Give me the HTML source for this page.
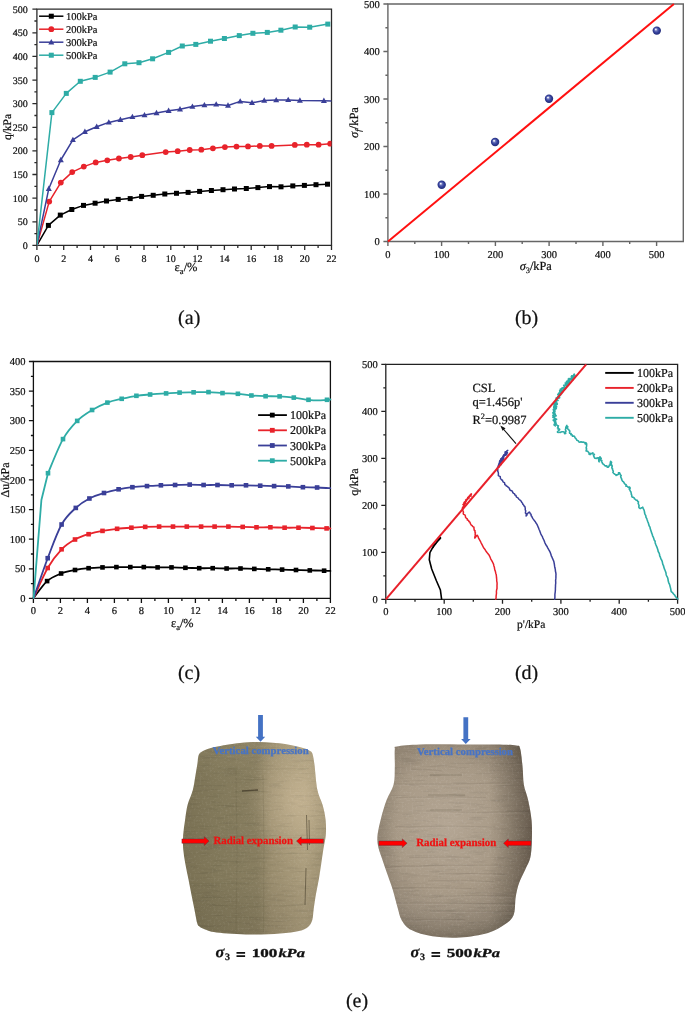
<!DOCTYPE html><html><head><meta charset="utf-8"><style>html,body{margin:0;padding:0;background:#fff;}svg{display:block;will-change:transform;text-rendering:geometricPrecision;} .ct text{stroke:#111;stroke-width:0.22px;}</style></head><body>
<svg width="685" height="1012" viewBox="0 0 685 1012" font-family="Liberation Serif" fill="#111"><g class="ct">
<g><path d="M36.9 9.2H331.5V245.4H36.9Z" fill="none" stroke="#2a2a2a" stroke-width="1.3"/>
<text x="27.8" y="248.8" text-anchor="end" font-size="10">0</text>
<text x="27.8" y="225.2" text-anchor="end" font-size="10">50</text>
<text x="27.8" y="201.6" text-anchor="end" font-size="10">100</text>
<text x="27.8" y="177.9" text-anchor="end" font-size="10">150</text>
<text x="27.8" y="154.3" text-anchor="end" font-size="10">200</text>
<text x="27.8" y="130.7" text-anchor="end" font-size="10">250</text>
<text x="27.8" y="107.1" text-anchor="end" font-size="10">300</text>
<text x="27.8" y="83.5" text-anchor="end" font-size="10">350</text>
<text x="27.8" y="59.8" text-anchor="end" font-size="10">400</text>
<text x="27.8" y="36.2" text-anchor="end" font-size="10">450</text>
<text x="27.8" y="12.6" text-anchor="end" font-size="10">500</text>
<text x="36.9" y="261.6" text-anchor="middle" font-size="10">0</text>
<text x="63.7" y="261.6" text-anchor="middle" font-size="10">2</text>
<text x="90.5" y="261.6" text-anchor="middle" font-size="10">4</text>
<text x="117.2" y="261.6" text-anchor="middle" font-size="10">6</text>
<text x="144" y="261.6" text-anchor="middle" font-size="10">8</text>
<text x="170.8" y="261.6" text-anchor="middle" font-size="10">10</text>
<text x="197.6" y="261.6" text-anchor="middle" font-size="10">12</text>
<text x="224.4" y="261.6" text-anchor="middle" font-size="10">14</text>
<text x="251.2" y="261.6" text-anchor="middle" font-size="10">16</text>
<text x="277.9" y="261.6" text-anchor="middle" font-size="10">18</text>
<text x="304.7" y="261.6" text-anchor="middle" font-size="10">20</text>
<text x="331.5" y="261.6" text-anchor="middle" font-size="10">22</text>
<path d="M32.4 245.4H36.9M34.4 233.6H36.9M32.4 221.8H36.9M34.4 210H36.9M32.4 198.2H36.9M34.4 186.3H36.9M32.4 174.5H36.9M34.4 162.7H36.9M32.4 150.9H36.9M34.4 139.1H36.9M32.4 127.3H36.9M34.4 115.5H36.9M32.4 103.7H36.9M34.4 91.9H36.9M32.4 80.1H36.9M34.4 68.2H36.9M32.4 56.4H36.9M34.4 44.6H36.9M32.4 32.8H36.9M34.4 21H36.9M32.4 9.2H36.9M36.9 245.4V249.9M50.3 245.4V247.9M63.7 245.4V249.9M77.1 245.4V247.9M90.5 245.4V249.9M103.9 245.4V247.9M117.2 245.4V249.9M130.6 245.4V247.9M144 245.4V249.9M157.4 245.4V247.9M170.8 245.4V249.9M184.2 245.4V247.9M197.6 245.4V249.9M211 245.4V247.9M224.4 245.4V249.9M237.8 245.4V247.9M251.2 245.4V249.9M264.5 245.4V247.9M277.9 245.4V249.9M291.3 245.4V247.9M304.7 245.4V249.9M318.1 245.4V247.9M331.5 245.4V249.9" fill="none" stroke="#2a2a2a" stroke-width="1.3"/></g>
<g clip-path="url(#clipA)">
<path d="M36.9 245.4 L48.4 225.4 L60.3 215.1 L71.8 209.5 L83.5 205.4 L95.1 203.2 L106.5 201 L118.2 199.4 L130.2 198.6 L141.6 196.4 L153.2 195.3 L164.8 194 L176.5 193.3 L188.1 192.4 L199.6 191.4 L211.4 190.5 L223 189.7 L234.5 189 L246.3 188.5 L257.9 187.6 L269.5 186.6 L281 186.8 L292.8 185.9 L304.4 185.4 L316 184.7 L327.5 184.2" fill="none" stroke="#000000" stroke-width="1.5" stroke-linejoin="round" stroke-linecap="round" />
<rect x="45.9" y="222.9" width="5" height="5" fill="#000000"/>
<rect x="57.8" y="212.6" width="5" height="5" fill="#000000"/>
<rect x="69.3" y="207" width="5" height="5" fill="#000000"/>
<rect x="81" y="202.9" width="5" height="5" fill="#000000"/>
<rect x="92.6" y="200.7" width="5" height="5" fill="#000000"/>
<rect x="104" y="198.5" width="5" height="5" fill="#000000"/>
<rect x="115.7" y="196.9" width="5" height="5" fill="#000000"/>
<rect x="127.7" y="196.1" width="5" height="5" fill="#000000"/>
<rect x="139.1" y="193.9" width="5" height="5" fill="#000000"/>
<rect x="150.7" y="192.8" width="5" height="5" fill="#000000"/>
<rect x="162.3" y="191.5" width="5" height="5" fill="#000000"/>
<rect x="174" y="190.8" width="5" height="5" fill="#000000"/>
<rect x="185.6" y="189.9" width="5" height="5" fill="#000000"/>
<rect x="197.1" y="188.9" width="5" height="5" fill="#000000"/>
<rect x="208.9" y="188" width="5" height="5" fill="#000000"/>
<rect x="220.5" y="187.2" width="5" height="5" fill="#000000"/>
<rect x="232" y="186.5" width="5" height="5" fill="#000000"/>
<rect x="243.8" y="186" width="5" height="5" fill="#000000"/>
<rect x="255.4" y="185.1" width="5" height="5" fill="#000000"/>
<rect x="267" y="184.1" width="5" height="5" fill="#000000"/>
<rect x="278.5" y="184.3" width="5" height="5" fill="#000000"/>
<rect x="290.3" y="183.4" width="5" height="5" fill="#000000"/>
<rect x="301.9" y="182.9" width="5" height="5" fill="#000000"/>
<rect x="313.5" y="182.2" width="5" height="5" fill="#000000"/>
<rect x="325" y="181.7" width="5" height="5" fill="#000000"/>
<path d="M36.9 245.4 L49.2 201.6 L60.8 182.6 L72.2 172.1 L83.8 166.6 L95.7 162.4 L107.3 160.3 L118.9 158.5 L130.7 157 L142.3 155.2 L165.7 152.1 L177.7 151.2 L189.7 150 L201.3 149.7 L212.9 148.3 L224.9 147.1 L236.5 146.6 L248 146.4 L259.8 145.9 L271.6 145.9 L294.8 144.9 L306.8 144.7 L318.6 144.7 L330.2 143.7" fill="none" stroke="#e8232b" stroke-width="1.5" stroke-linejoin="round" stroke-linecap="round" />
<circle cx="49.2" cy="201.6" r="2.9" fill="#e8232b"/>
<circle cx="60.8" cy="182.6" r="2.9" fill="#e8232b"/>
<circle cx="72.2" cy="172.1" r="2.9" fill="#e8232b"/>
<circle cx="83.8" cy="166.6" r="2.9" fill="#e8232b"/>
<circle cx="95.7" cy="162.4" r="2.9" fill="#e8232b"/>
<circle cx="107.3" cy="160.3" r="2.9" fill="#e8232b"/>
<circle cx="118.9" cy="158.5" r="2.9" fill="#e8232b"/>
<circle cx="130.7" cy="157" r="2.9" fill="#e8232b"/>
<circle cx="142.3" cy="155.2" r="2.9" fill="#e8232b"/>
<circle cx="165.7" cy="152.1" r="2.9" fill="#e8232b"/>
<circle cx="177.7" cy="151.2" r="2.9" fill="#e8232b"/>
<circle cx="189.7" cy="150" r="2.9" fill="#e8232b"/>
<circle cx="201.3" cy="149.7" r="2.9" fill="#e8232b"/>
<circle cx="212.9" cy="148.3" r="2.9" fill="#e8232b"/>
<circle cx="224.9" cy="147.1" r="2.9" fill="#e8232b"/>
<circle cx="236.5" cy="146.6" r="2.9" fill="#e8232b"/>
<circle cx="248" cy="146.4" r="2.9" fill="#e8232b"/>
<circle cx="259.8" cy="145.9" r="2.9" fill="#e8232b"/>
<circle cx="271.6" cy="145.9" r="2.9" fill="#e8232b"/>
<circle cx="294.8" cy="144.9" r="2.9" fill="#e8232b"/>
<circle cx="306.8" cy="144.7" r="2.9" fill="#e8232b"/>
<circle cx="318.6" cy="144.7" r="2.9" fill="#e8232b"/>
<circle cx="330.2" cy="143.7" r="2.9" fill="#e8232b"/>
<path d="M36.9 245.4 L48.8 188.7 L60.8 160 L72.9 139.9 L84.9 131.8 L96.7 126.7 L108.8 122.4 L120.4 119.7 L132.4 116.9 L144.5 115.1 L156.5 113 L168.6 110.8 L180 109.2 L192.4 106.6 L204.4 105.1 L216.2 104.4 L228 105.5 L240.2 101.4 L252 102.8 L264.2 100.5 L276.2 100.1 L288.2 99.9 L299.9 100.5 L323.9 100.8 L331.5 101" fill="none" stroke="#3a3f98" stroke-width="1.5" stroke-linejoin="round" stroke-linecap="round" />
<path d="M48.8 185.5L51.8 190.9L45.8 190.9Z" fill="#3a3f98"/>
<path d="M60.8 156.8L63.8 162.2L57.8 162.2Z" fill="#3a3f98"/>
<path d="M72.9 136.7L75.9 142.1L69.9 142.1Z" fill="#3a3f98"/>
<path d="M84.9 128.6L87.9 134L81.9 134Z" fill="#3a3f98"/>
<path d="M96.7 123.5L99.7 128.9L93.7 128.9Z" fill="#3a3f98"/>
<path d="M108.8 119.2L111.8 124.6L105.8 124.6Z" fill="#3a3f98"/>
<path d="M120.4 116.5L123.4 121.9L117.4 121.9Z" fill="#3a3f98"/>
<path d="M132.4 113.7L135.4 119.1L129.4 119.1Z" fill="#3a3f98"/>
<path d="M144.5 111.9L147.5 117.3L141.5 117.3Z" fill="#3a3f98"/>
<path d="M156.5 109.8L159.5 115.2L153.5 115.2Z" fill="#3a3f98"/>
<path d="M168.6 107.6L171.6 113L165.6 113Z" fill="#3a3f98"/>
<path d="M180 106L183 111.4L177 111.4Z" fill="#3a3f98"/>
<path d="M192.4 103.4L195.4 108.8L189.4 108.8Z" fill="#3a3f98"/>
<path d="M204.4 101.9L207.4 107.3L201.4 107.3Z" fill="#3a3f98"/>
<path d="M216.2 101.2L219.2 106.6L213.2 106.6Z" fill="#3a3f98"/>
<path d="M228 102.3L231 107.7L225 107.7Z" fill="#3a3f98"/>
<path d="M240.2 98.2L243.2 103.6L237.2 103.6Z" fill="#3a3f98"/>
<path d="M252 99.6L255 105L249 105Z" fill="#3a3f98"/>
<path d="M264.2 97.3L267.2 102.7L261.2 102.7Z" fill="#3a3f98"/>
<path d="M276.2 96.9L279.2 102.3L273.2 102.3Z" fill="#3a3f98"/>
<path d="M288.2 96.7L291.2 102.1L285.2 102.1Z" fill="#3a3f98"/>
<path d="M299.9 97.3L302.9 102.7L296.9 102.7Z" fill="#3a3f98"/>
<path d="M323.9 97.6L326.9 103L320.9 103Z" fill="#3a3f98"/>
<path d="M36.9 245.4 L51.9 112.6 L66.3 93.4 L80.3 81.3 L95.2 77.4 L110.1 72.1 L124.8 63.8 L139 62.7 L152.6 58.8 L168.6 52.4 L182.3 46 L195.8 44.4 L210.5 41.2 L224.4 38.5 L239.3 35.6 L252.9 33.3 L267.3 32.4 L280.9 30.2 L295.2 27 L309.7 27.2 L327.8 24.1" fill="none" stroke="#2eaca6" stroke-width="1.5" stroke-linejoin="round" stroke-linecap="round" />
<rect x="49.4" y="110.1" width="5" height="5" fill="#2eaca6"/>
<rect x="63.8" y="90.9" width="5" height="5" fill="#2eaca6"/>
<rect x="77.8" y="78.8" width="5" height="5" fill="#2eaca6"/>
<rect x="92.7" y="74.9" width="5" height="5" fill="#2eaca6"/>
<rect x="107.6" y="69.6" width="5" height="5" fill="#2eaca6"/>
<rect x="122.3" y="61.3" width="5" height="5" fill="#2eaca6"/>
<rect x="136.5" y="60.2" width="5" height="5" fill="#2eaca6"/>
<rect x="150.1" y="56.3" width="5" height="5" fill="#2eaca6"/>
<rect x="166.1" y="49.9" width="5" height="5" fill="#2eaca6"/>
<rect x="179.8" y="43.5" width="5" height="5" fill="#2eaca6"/>
<rect x="193.3" y="41.9" width="5" height="5" fill="#2eaca6"/>
<rect x="208" y="38.7" width="5" height="5" fill="#2eaca6"/>
<rect x="221.9" y="36" width="5" height="5" fill="#2eaca6"/>
<rect x="236.8" y="33.1" width="5" height="5" fill="#2eaca6"/>
<rect x="250.4" y="30.8" width="5" height="5" fill="#2eaca6"/>
<rect x="264.8" y="29.9" width="5" height="5" fill="#2eaca6"/>
<rect x="278.4" y="27.7" width="5" height="5" fill="#2eaca6"/>
<rect x="292.7" y="24.5" width="5" height="5" fill="#2eaca6"/>
<rect x="307.2" y="24.7" width="5" height="5" fill="#2eaca6"/>
<rect x="325.3" y="21.6" width="5" height="5" fill="#2eaca6"/>
</g>
<path d="M39.1 16.2H63.4" stroke="#000000" stroke-width="1.5"/>
<rect x="48.8" y="13.7" width="5" height="5" fill="#000000"/>
<text x="66" y="19.8" font-size="10.5">100kPa</text>
<path d="M39.1 29.2H63.4" stroke="#e8232b" stroke-width="1.5"/>
<circle cx="51.3" cy="29.2" r="2.9" fill="#e8232b"/>
<text x="66" y="32.8" font-size="10.5">200kPa</text>
<path d="M39.1 42.2H63.4" stroke="#3a3f98" stroke-width="1.5"/>
<path d="M51.3 39L54.3 44.4L48.3 44.4Z" fill="#3a3f98"/>
<text x="66" y="45.8" font-size="10.5">300kPa</text>
<path d="M39.1 55.2H63.4" stroke="#2eaca6" stroke-width="1.5"/>
<rect x="48.8" y="52.7" width="5" height="5" fill="#2eaca6"/>
<text x="66" y="58.8" font-size="10.5">500kPa</text>
<text transform="translate(11.2 127) rotate(-90)" text-anchor="middle" font-size="11.5">q/kPa</text>
<text x="174.6" y="270.9" font-size="12.5">ε<tspan font-size="8.5" dy="2.7">a</tspan><tspan dy="-2.7">/%</tspan></text>
<g><path d="M387.9 4H683.3V241.5H387.9Z" fill="none" stroke="#666" stroke-width="1.4"/>
<text x="379.7" y="245.1" text-anchor="end" font-size="10.5">0</text>
<text x="379.7" y="197.6" text-anchor="end" font-size="10.5">100</text>
<text x="379.7" y="150.1" text-anchor="end" font-size="10.5">200</text>
<text x="379.7" y="102.6" text-anchor="end" font-size="10.5">300</text>
<text x="379.7" y="55.1" text-anchor="end" font-size="10.5">400</text>
<text x="379.7" y="7.6" text-anchor="end" font-size="10.5">500</text>
<text x="387.9" y="257.9" text-anchor="middle" font-size="10.5">0</text>
<text x="441.6" y="257.9" text-anchor="middle" font-size="10.5">100</text>
<text x="495.4" y="257.9" text-anchor="middle" font-size="10.5">200</text>
<text x="549.1" y="257.9" text-anchor="middle" font-size="10.5">300</text>
<text x="602.9" y="257.9" text-anchor="middle" font-size="10.5">400</text>
<text x="656.6" y="257.9" text-anchor="middle" font-size="10.5">500</text>
<path d="M383.4 241.5H387.9M385.4 217.8H387.9M383.4 194H387.9M385.4 170.2H387.9M383.4 146.5H387.9M385.4 122.8H387.9M383.4 99H387.9M385.4 75.2H387.9M383.4 51.5H387.9M385.4 27.8H387.9M383.4 4H387.9M387.9 241.5V246M414.8 241.5V244M441.6 241.5V246M468.5 241.5V244M495.4 241.5V246M522.2 241.5V244M549.1 241.5V246M576 241.5V244M602.9 241.5V246M629.7 241.5V244M656.6 241.5V246" fill="none" stroke="#666" stroke-width="1.4"/></g>
<defs><radialGradient id="ball" cx="0.5" cy="0.5" r="0.55" fx="0.36" fy="0.33"><stop offset="0" stop-color="#ffffff"/><stop offset="0.12" stop-color="#e0e2f2"/><stop offset="0.3" stop-color="#6a74bc"/><stop offset="0.6" stop-color="#34409a"/><stop offset="1" stop-color="#1f2874"/></radialGradient>
<clipPath id="clipA"><rect x="36.9" y="9.2" width="294.6" height="236.2"/></clipPath></defs>
<path d="M388 241.5L673.9 4.1" stroke="#ff1010" stroke-width="2"/>
<circle cx="441.7" cy="184.8" r="4.2" fill="url(#ball)"/>
<circle cx="495.1" cy="142" r="4.2" fill="url(#ball)"/>
<circle cx="549" cy="98.7" r="4.2" fill="url(#ball)"/>
<circle cx="656.8" cy="30.6" r="4.2" fill="url(#ball)"/>
<text transform="translate(357.8 122.5) rotate(-90)" text-anchor="middle" font-size="12.5"><tspan font-style="italic">σ</tspan><tspan font-size="8.5" dy="2.8" font-style="italic">f</tspan><tspan dy="-2.8">/kPa</tspan></text>
<text x="519.7" y="269.9" font-size="12.3"><tspan font-style="italic">σ</tspan><tspan font-size="8.3" dy="2.7">3</tspan><tspan dy="-2.7">/kPa</tspan></text>
<g><path d="M33.4 361.5H330.4V598.4H33.4Z" fill="none" stroke="#111" stroke-width="1.3"/>
<text x="25.5" y="602" text-anchor="end" font-size="10.5">0</text>
<text x="25.5" y="572.4" text-anchor="end" font-size="10.5">50</text>
<text x="25.5" y="542.7" text-anchor="end" font-size="10.5">100</text>
<text x="25.5" y="513.1" text-anchor="end" font-size="10.5">150</text>
<text x="25.5" y="483.5" text-anchor="end" font-size="10.5">200</text>
<text x="25.5" y="453.9" text-anchor="end" font-size="10.5">250</text>
<text x="25.5" y="424.3" text-anchor="end" font-size="10.5">300</text>
<text x="25.5" y="394.7" text-anchor="end" font-size="10.5">350</text>
<text x="25.5" y="365.1" text-anchor="end" font-size="10.5">400</text>
<text x="33.4" y="614.2" text-anchor="middle" font-size="10.5">0</text>
<text x="60.4" y="614.2" text-anchor="middle" font-size="10.5">2</text>
<text x="87.4" y="614.2" text-anchor="middle" font-size="10.5">4</text>
<text x="114.4" y="614.2" text-anchor="middle" font-size="10.5">6</text>
<text x="141.4" y="614.2" text-anchor="middle" font-size="10.5">8</text>
<text x="168.4" y="614.2" text-anchor="middle" font-size="10.5">10</text>
<text x="195.4" y="614.2" text-anchor="middle" font-size="10.5">12</text>
<text x="222.4" y="614.2" text-anchor="middle" font-size="10.5">14</text>
<text x="249.4" y="614.2" text-anchor="middle" font-size="10.5">16</text>
<text x="276.4" y="614.2" text-anchor="middle" font-size="10.5">18</text>
<text x="303.4" y="614.2" text-anchor="middle" font-size="10.5">20</text>
<text x="330.4" y="614.2" text-anchor="middle" font-size="10.5">22</text>
<path d="M28.9 598.4H33.4M30.9 583.6H33.4M28.9 568.8H33.4M30.9 554H33.4M28.9 539.2H33.4M30.9 524.4H33.4M28.9 509.6H33.4M30.9 494.8H33.4M28.9 479.9H33.4M30.9 465.1H33.4M28.9 450.3H33.4M30.9 435.5H33.4M28.9 420.7H33.4M30.9 405.9H33.4M28.9 391.1H33.4M30.9 376.3H33.4M28.9 361.5H33.4M33.4 598.4V602.9M46.9 598.4V600.9M60.4 598.4V602.9M73.9 598.4V600.9M87.4 598.4V602.9M100.9 598.4V600.9M114.4 598.4V602.9M127.9 598.4V600.9M141.4 598.4V602.9M154.9 598.4V600.9M168.4 598.4V602.9M181.9 598.4V600.9M195.4 598.4V602.9M208.9 598.4V600.9M222.4 598.4V602.9M235.9 598.4V600.9M249.4 598.4V602.9M262.9 598.4V600.9M276.4 598.4V602.9M289.9 598.4V600.9M303.4 598.4V602.9M316.9 598.4V600.9M330.4 598.4V602.9" fill="none" stroke="#111" stroke-width="1.3"/></g>
<path d="M33.6 598 C35.9 595.2 42.5 585.2 47.1 581.1 C51.7 577 56.5 575.4 61.1 573.5 C65.8 571.6 70.4 570.9 75 570 C79.6 569.1 84 568.6 88.6 568.2 C93.2 567.8 97.9 567.6 102.5 567.4 C107.1 567.2 111.8 567.1 116.4 567.1 C121 567.1 125.7 567.1 130.3 567.1 C134.9 567.1 139.2 567.1 143.8 567.1 C148.4 567.1 153 567.4 157.6 567.4 C162.2 567.4 166.9 567.3 171.5 567.4 C176.1 567.5 180.8 567.7 185.4 567.8 C190 567.9 194.6 568.1 199.2 568.2 C203.8 568.3 208.1 568.2 212.7 568.2 C217.3 568.2 222 568.5 226.6 568.5 C231.2 568.5 235.9 568.4 240.5 568.5 C245.1 568.6 249.7 568.8 254.3 568.9 C258.9 569 263.6 569.2 268.2 569.3 C272.8 569.4 277.5 569.5 282.1 569.6 C286.7 569.7 291.4 569.9 296 570 C300.6 570.1 305.1 570.3 309.8 570.4 C314.5 570.5 320.7 570.6 324.1 570.7 C327.5 570.8 329.3 570.9 330.4 570.9" fill="none" stroke="#000000" stroke-width="1.8" stroke-linejoin="round" stroke-linecap="round"/>
<rect x="44.8" y="578.8" width="4.6" height="4.6" fill="#000000"/>
<rect x="58.8" y="571.2" width="4.6" height="4.6" fill="#000000"/>
<rect x="72.7" y="567.7" width="4.6" height="4.6" fill="#000000"/>
<rect x="86.3" y="565.9" width="4.6" height="4.6" fill="#000000"/>
<rect x="100.2" y="565.1" width="4.6" height="4.6" fill="#000000"/>
<rect x="114.1" y="564.8" width="4.6" height="4.6" fill="#000000"/>
<rect x="128" y="564.8" width="4.6" height="4.6" fill="#000000"/>
<rect x="141.5" y="564.8" width="4.6" height="4.6" fill="#000000"/>
<rect x="155.3" y="565.1" width="4.6" height="4.6" fill="#000000"/>
<rect x="169.2" y="565.1" width="4.6" height="4.6" fill="#000000"/>
<rect x="183.1" y="565.5" width="4.6" height="4.6" fill="#000000"/>
<rect x="196.9" y="565.9" width="4.6" height="4.6" fill="#000000"/>
<rect x="210.4" y="565.9" width="4.6" height="4.6" fill="#000000"/>
<rect x="224.3" y="566.2" width="4.6" height="4.6" fill="#000000"/>
<rect x="238.2" y="566.2" width="4.6" height="4.6" fill="#000000"/>
<rect x="252" y="566.6" width="4.6" height="4.6" fill="#000000"/>
<rect x="265.9" y="567" width="4.6" height="4.6" fill="#000000"/>
<rect x="279.8" y="567.3" width="4.6" height="4.6" fill="#000000"/>
<rect x="293.7" y="567.7" width="4.6" height="4.6" fill="#000000"/>
<rect x="307.5" y="568.1" width="4.6" height="4.6" fill="#000000"/>
<rect x="321.8" y="568.4" width="4.6" height="4.6" fill="#000000"/>
<path d="M33.6 598 C36 593 43 576.1 47.7 568 C52.4 559.9 57.1 554 61.6 549.3 C66.2 544.5 70.5 542 75 539.5 C79.5 537 84 535.6 88.6 534.2 C93.2 532.8 97.8 531.8 102.5 530.9 C107.2 530 112.3 529.3 117.1 528.8 C121.9 528.3 126.7 528 131.4 527.7 C136.1 527.4 140.6 527.1 145.2 526.9 C149.8 526.7 154.5 526.6 159.1 526.6 C163.7 526.6 168.4 526.6 173 526.6 C177.6 526.6 182.1 526.6 186.8 526.6 C191.5 526.6 196.5 526.6 201.1 526.6 C205.7 526.6 210 526.6 214.6 526.6 C219.2 526.6 223.7 526.6 228.4 526.6 C233.1 526.6 238 526.8 242.7 526.9 C247.4 527 251.9 527.2 256.5 527.3 C261.1 527.4 265.7 527.2 270.4 527.3 C275.1 527.4 279.9 527.6 284.6 527.7 C289.3 527.8 293.9 527.7 298.5 527.7 C303.1 527.8 307.7 527.9 312.4 528 C317.1 528.1 323.6 528.3 326.6 528.4 C329.6 528.5 329.8 528.5 330.4 528.5" fill="none" stroke="#e8232b" stroke-width="1.8" stroke-linejoin="round" stroke-linecap="round"/>
<rect x="45.4" y="565.7" width="4.6" height="4.6" fill="#e8232b"/>
<rect x="59.3" y="547" width="4.6" height="4.6" fill="#e8232b"/>
<rect x="72.7" y="537.2" width="4.6" height="4.6" fill="#e8232b"/>
<rect x="86.3" y="531.9" width="4.6" height="4.6" fill="#e8232b"/>
<rect x="100.2" y="528.6" width="4.6" height="4.6" fill="#e8232b"/>
<rect x="114.8" y="526.5" width="4.6" height="4.6" fill="#e8232b"/>
<rect x="129.1" y="525.4" width="4.6" height="4.6" fill="#e8232b"/>
<rect x="142.9" y="524.6" width="4.6" height="4.6" fill="#e8232b"/>
<rect x="156.8" y="524.3" width="4.6" height="4.6" fill="#e8232b"/>
<rect x="170.7" y="524.3" width="4.6" height="4.6" fill="#e8232b"/>
<rect x="184.5" y="524.3" width="4.6" height="4.6" fill="#e8232b"/>
<rect x="198.8" y="524.3" width="4.6" height="4.6" fill="#e8232b"/>
<rect x="212.3" y="524.3" width="4.6" height="4.6" fill="#e8232b"/>
<rect x="226.1" y="524.3" width="4.6" height="4.6" fill="#e8232b"/>
<rect x="240.4" y="524.6" width="4.6" height="4.6" fill="#e8232b"/>
<rect x="254.2" y="525" width="4.6" height="4.6" fill="#e8232b"/>
<rect x="268.1" y="525" width="4.6" height="4.6" fill="#e8232b"/>
<rect x="282.3" y="525.4" width="4.6" height="4.6" fill="#e8232b"/>
<rect x="296.2" y="525.4" width="4.6" height="4.6" fill="#e8232b"/>
<rect x="310.1" y="525.7" width="4.6" height="4.6" fill="#e8232b"/>
<rect x="324.3" y="526.1" width="4.6" height="4.6" fill="#e8232b"/>
<path d="M33.6 598 C36 591.4 43 570.5 47.7 558.2 C52.4 546 56.9 532.9 61.6 524.5 C66.3 516.1 71.2 512.2 75.8 507.9 C80.4 503.6 84.7 501 89.4 498.5 C94.1 496 99.1 494.5 104 493 C108.9 491.5 113.9 490.3 118.6 489.3 C123.3 488.3 127.7 487.7 132.4 487.2 C137.1 486.7 142.2 486.4 147 486.1 C151.8 485.8 156.2 485.5 160.9 485.3 C165.6 485.1 170.3 485.1 175.1 485 C179.9 484.9 184.9 484.6 189.7 484.6 C194.4 484.6 199 484.9 203.6 485 C208.2 485.1 212.8 484.9 217.5 485 C222.2 485.1 226.9 485.2 231.7 485.3 C236.4 485.4 241.2 485.2 246 485.3 C250.8 485.4 255.5 485.6 260.2 485.7 C264.9 485.8 269.4 486 274.1 486.1 C278.8 486.2 283.5 486.2 288.3 486.4 C293.1 486.6 298.1 487 302.9 487.2 C307.7 487.4 312.5 487.3 317.1 487.5 C321.7 487.7 328.1 488.1 330.3 488.2" fill="none" stroke="#3a3f98" stroke-width="1.8" stroke-linejoin="round" stroke-linecap="round"/>
<rect x="45.4" y="555.9" width="4.6" height="4.6" fill="#3a3f98"/>
<rect x="59.3" y="522.2" width="4.6" height="4.6" fill="#3a3f98"/>
<rect x="73.5" y="505.6" width="4.6" height="4.6" fill="#3a3f98"/>
<rect x="87.1" y="496.2" width="4.6" height="4.6" fill="#3a3f98"/>
<rect x="101.7" y="490.7" width="4.6" height="4.6" fill="#3a3f98"/>
<rect x="116.3" y="487" width="4.6" height="4.6" fill="#3a3f98"/>
<rect x="130.1" y="484.9" width="4.6" height="4.6" fill="#3a3f98"/>
<rect x="144.7" y="483.8" width="4.6" height="4.6" fill="#3a3f98"/>
<rect x="158.6" y="483" width="4.6" height="4.6" fill="#3a3f98"/>
<rect x="172.8" y="482.7" width="4.6" height="4.6" fill="#3a3f98"/>
<rect x="187.4" y="482.3" width="4.6" height="4.6" fill="#3a3f98"/>
<rect x="201.3" y="482.7" width="4.6" height="4.6" fill="#3a3f98"/>
<rect x="215.2" y="482.7" width="4.6" height="4.6" fill="#3a3f98"/>
<rect x="229.4" y="483" width="4.6" height="4.6" fill="#3a3f98"/>
<rect x="243.7" y="483" width="4.6" height="4.6" fill="#3a3f98"/>
<rect x="257.9" y="483.4" width="4.6" height="4.6" fill="#3a3f98"/>
<rect x="271.8" y="483.8" width="4.6" height="4.6" fill="#3a3f98"/>
<rect x="286" y="484.1" width="4.6" height="4.6" fill="#3a3f98"/>
<rect x="300.6" y="484.9" width="4.6" height="4.6" fill="#3a3f98"/>
<rect x="314.8" y="485.2" width="4.6" height="4.6" fill="#3a3f98"/>
<path d="M33.6 598 L41.4 500 L48 473.2" fill="none" stroke="#2eaca6" stroke-width="1.8" stroke-linejoin="round" stroke-linecap="round" />
<path d="M48 473.2 C50.5 467.5 58.1 447.8 63 439.1 C67.9 430.4 72.4 425.8 77.2 420.9 C82 416 87.1 413.1 92.1 410 C97.1 406.9 102.5 404.5 107.4 402.6 C112.3 400.7 116.9 399.9 121.7 398.8 C126.5 397.7 131.7 396.5 136.4 395.8 C141.1 395.1 145.2 394.9 150.1 394.5 C155 394.1 161.2 393.7 166.1 393.4 C171 393.1 175 392.8 179.6 392.6 C184.2 392.4 188.8 392.4 193.6 392.3 C198.4 392.2 203.7 392 208.5 392.1 C213.3 392.2 217.6 392.8 222.5 393.1 C227.4 393.4 233.1 393.4 237.9 393.8 C242.7 394.2 246.8 395.1 251.4 395.5 C256 395.9 260.9 396.1 265.6 396.2 C270.3 396.3 274.9 396.2 279.6 396.4 C284.3 396.6 289 397 293.8 397.6 C298.6 398.2 304.5 399.3 308.5 399.8 C312.5 400.3 314.9 400.4 318 400.4 C321.1 400.4 324.9 399.9 327 399.8 C329.1 399.7 329.8 399.6 330.4 399.5" fill="none" stroke="#2eaca6" stroke-width="1.8" stroke-linejoin="round" stroke-linecap="round"/>
<rect x="45.7" y="470.9" width="4.6" height="4.6" fill="#2eaca6"/>
<rect x="60.7" y="436.8" width="4.6" height="4.6" fill="#2eaca6"/>
<rect x="74.9" y="418.6" width="4.6" height="4.6" fill="#2eaca6"/>
<rect x="89.8" y="407.7" width="4.6" height="4.6" fill="#2eaca6"/>
<rect x="105.1" y="400.3" width="4.6" height="4.6" fill="#2eaca6"/>
<rect x="119.4" y="396.5" width="4.6" height="4.6" fill="#2eaca6"/>
<rect x="134.1" y="393.5" width="4.6" height="4.6" fill="#2eaca6"/>
<rect x="147.8" y="392.2" width="4.6" height="4.6" fill="#2eaca6"/>
<rect x="163.8" y="391.1" width="4.6" height="4.6" fill="#2eaca6"/>
<rect x="177.3" y="390.3" width="4.6" height="4.6" fill="#2eaca6"/>
<rect x="191.3" y="390" width="4.6" height="4.6" fill="#2eaca6"/>
<rect x="206.2" y="389.8" width="4.6" height="4.6" fill="#2eaca6"/>
<rect x="220.2" y="390.8" width="4.6" height="4.6" fill="#2eaca6"/>
<rect x="235.6" y="391.5" width="4.6" height="4.6" fill="#2eaca6"/>
<rect x="249.1" y="393.2" width="4.6" height="4.6" fill="#2eaca6"/>
<rect x="263.3" y="393.9" width="4.6" height="4.6" fill="#2eaca6"/>
<rect x="277.3" y="394.1" width="4.6" height="4.6" fill="#2eaca6"/>
<rect x="291.5" y="395.3" width="4.6" height="4.6" fill="#2eaca6"/>
<rect x="306.2" y="397.5" width="4.6" height="4.6" fill="#2eaca6"/>
<rect x="324.7" y="397.5" width="4.6" height="4.6" fill="#2eaca6"/>
<path d="M258.1 415.1H286.9" stroke="#000000" stroke-width="1.8"/>
<rect x="269.9" y="412.7" width="4.8" height="4.8" fill="#000000"/>
<text x="290" y="419.2" font-size="12">100kPa</text>
<path d="M258.1 430.3H286.9" stroke="#e8232b" stroke-width="1.8"/>
<rect x="269.9" y="427.9" width="4.8" height="4.8" fill="#e8232b"/>
<text x="290" y="434.4" font-size="12">200kPa</text>
<path d="M258.1 445.5H286.9" stroke="#3a3f98" stroke-width="1.8"/>
<rect x="269.9" y="443.1" width="4.8" height="4.8" fill="#3a3f98"/>
<text x="290" y="449.6" font-size="12">300kPa</text>
<path d="M258.1 460.7H286.9" stroke="#2eaca6" stroke-width="1.8"/>
<rect x="269.9" y="458.3" width="4.8" height="4.8" fill="#2eaca6"/>
<text x="290" y="464.8" font-size="12">500kPa</text>
<text transform="translate(9.3 480) rotate(-90)" text-anchor="middle" font-size="12">Δu/kPa</text>
<text x="171" y="626.8" font-size="12.3">ε<tspan font-size="8.5" dy="2.7">a</tspan><tspan dy="-2.7">/%</tspan></text>
<g><path d="M385.8 364.3H677.6V599.3H385.8Z" fill="none" stroke="#222" stroke-width="1.3"/>
<text x="377.7" y="602.9" text-anchor="end" font-size="10.5">0</text>
<text x="377.7" y="555.9" text-anchor="end" font-size="10.5">100</text>
<text x="377.7" y="508.9" text-anchor="end" font-size="10.5">200</text>
<text x="377.7" y="461.9" text-anchor="end" font-size="10.5">300</text>
<text x="377.7" y="414.9" text-anchor="end" font-size="10.5">400</text>
<text x="377.7" y="367.9" text-anchor="end" font-size="10.5">500</text>
<text x="385.8" y="615.3" text-anchor="middle" font-size="10.5">0</text>
<text x="444.2" y="615.3" text-anchor="middle" font-size="10.5">100</text>
<text x="502.5" y="615.3" text-anchor="middle" font-size="10.5">200</text>
<text x="560.9" y="615.3" text-anchor="middle" font-size="10.5">300</text>
<text x="619.2" y="615.3" text-anchor="middle" font-size="10.5">400</text>
<text x="677.6" y="615.3" text-anchor="middle" font-size="10.5">500</text>
<path d="M381.3 599.3H385.8M383.3 575.8H385.8M381.3 552.3H385.8M383.3 528.8H385.8M381.3 505.3H385.8M383.3 481.8H385.8M381.3 458.3H385.8M383.3 434.8H385.8M381.3 411.3H385.8M383.3 387.8H385.8M381.3 364.3H385.8M385.8 599.3V603.8M415 599.3V601.8M444.2 599.3V603.8M473.3 599.3V601.8M502.5 599.3V603.8M531.7 599.3V601.8M560.9 599.3V603.8M590.1 599.3V601.8M619.2 599.3V603.8M648.4 599.3V601.8M677.6 599.3V603.8" fill="none" stroke="#222" stroke-width="1.3"/></g>
<path d="M441.6 599.2 L440.4 590 L436.4 580.7 L431.7 569 L429.3 559.7 L429.9 552.7 L432.8 547.4 L435.8 543.4 L440.4 538.1" fill="none" stroke="#000000" stroke-width="1.6" stroke-linejoin="round" stroke-linecap="round" />
<path d="M432.5 548 L433.1 547.5 L433.5 546.9 L432.9 545.7 L433.1 545 L434.1 544.7 L434.2 543.9 L435.5 543.9 L435.8 543.2 L436.2 542.5 L436.6 541.8 L437.2 541.4 L437 540.1 L437.9 539.9 L438 539 L439.6 539.6 L438.9 537.9 L440.5 538.5 L440.5 537.5" fill="none" stroke="#000000" stroke-width="1.3" stroke-linejoin="round" stroke-linecap="round" />
<path d="M495.8 599.2 L496.1 597.7 L496.1 596.1 L496.3 594.6 L496.5 593.1 L496.4 591.5 L496.6 590 L497 588.5 L497 586.9 L497 585.4 L497.1 583.8 L497 582.3 L496.7 580.8 L496.7 579.2 L496.5 577.7 L496.4 576.1 L496.2 574.6 L495.7 573.2 L495.5 571.7 L494.9 570.3 L494.6 568.8 L494.4 567.3 L493.9 565.9 L493.6 564.4 L493 563 L492.3 561.7 L491.6 560.4 L490.8 559.1 L490.3 557.7 L489.7 556.3 L489 554.9 L488 553.7 L487 552.5 L486 551.2 L485.2 549.8 L484.2 548.6 L483.3 547.2 L482.6 545.7 L481.9 544.3 L481.1 542.8 L480.4 541.3 L479.6 539.9 L478.7 538.4 L478.1 536.7 L477.2 535.2 L476 536.6 L474.9 538.1 L474.6 538.1 L474.9 537.1 L475 536 L475.5 535.1 L475 534 L475.5 533 L474.9 532.1 L475.1 530.9 L474.2 530.1 L474.1 529.1 L473.9 528 L473.8 526.9 L472.7 526.6 L472.2 525.6 L471.3 525.1 L470.7 524.2 L470.2 523.2 L469.9 522.1 L468.9 521.5 L468.6 520.4 L467.3 520 L467.3 518.8 L466.2 518.1 L465.5 517.2 L465.4 516 L464.9 514.9 L463.6 514.4 L463.2 513.2 L463.5 512 L462.9 510.9 L462.7 509.7 L462.3 508.4 L462.6 507.4 L463.5 506.6 L464.1 505.7 L464.4 504.8 L464.2 503.7 L464.1 502.4 L465.1 501.7 L466.1 501 L466.9 500.1 L467.4 499 L467.8 497.8 L468.6 497.2 L469.2 496.4 L469.9 495.7 L470.2 494.7 L471 494" fill="none" stroke="#e8202a" stroke-width="1.5" stroke-linejoin="round" stroke-linecap="round" />
<path d="M463.9 506.5 L464.1 505.9 L462.9 504.5 L463.5 504.1 L464.9 504.2 L464.1 503 L465.7 503.2 L465.1 502.2 L465.8 501.8 L466.1 501.3 L465.5 500.1 L466.1 499.7 L466.5 499.1 L467.6 499.3 L468.1 498.8 L467.6 497.5 L469.3 498.1 L468.9 496.9 L469.1 496.1 L469.8 495.9 L471.1 496.2 L470.8 495.1 L471.3 494.7 L471.5 494" fill="none" stroke="#e8202a" stroke-width="1.4" stroke-linejoin="round" stroke-linecap="round" />
<path d="M554.7 599.2 L554.9 597.6 L554.9 596 L554.9 594.4 L555.1 592.9 L555.3 591.3 L555.4 589.7 L555.4 588.1 L555.5 586.5 L555.5 585 L555.7 583.5 L555.7 581.9 L555.6 580.4 L555.8 578.9 L555.9 577.4 L555.9 575.8 L556 574.3 L555.8 572.7 L555.4 571 L555.3 569.4 L554.9 567.8 L554.6 566.2 L554.4 564.5 L554.1 562.9 L553.8 561.4 L553.2 560 L552.6 558.6 L552 557.2 L551.3 555.8 L550.9 554.3 L550.4 552.9 L549.8 551.5 L549 550.2 L548.3 548.9 L547.6 547.6 L546.9 546.2 L546 545 L545.3 543.7 L544.7 542.3 L544.2 540.8 L543.6 539.5 L542.9 538.1 L542.4 536.7 L541.6 535.4 L540.9 534.1 L540.3 532.4 L539.7 530.8 L539 529.2 L538.4 527.6 L537.7 526 L537 524.4 L536 523 L535.1 521.4 L533.9 520.1 L533.7 519.4 L533.6 519.5 L532.9 518.6 L532.3 517.7 L531.9 516.6 L531.1 515.7 L531.1 514.4 L530.2 513.7 L529.8 512.6 L529.3 512 L528.4 512.6 L527.8 513.4 L527 514.1 L526.9 515.2 L526.1 515.9 L526.3 514.8 L526.2 513.8 L525.4 512.9 L525.6 511.8 L525.7 510.7 L525.2 509.8 L525.3 508.7 L525.1 507.6 L524.9 506.6 L524 505.9 L523.6 505 L522.8 504.3 L522.6 503.2 L521.8 502.5 L521.4 501.6 L520.8 500.8 L520 500.1 L519.2 499.5 L518.5 498.7 L518 497.8 L517 497.3 L516.2 496.7 L516 495.4 L514.8 495 L514.6 493.8 L513.7 493.3 L512.8 492.7 L512.5 491.6 L511.8 490.8 L510.7 490.5 L509.8 489.8 L509.5 488.7 L509 487.8 L508.1 487.2 L507.4 486.4 L506.4 486 L505.8 485.1 L504.8 484.6 L504.7 483.5 L504.5 482.6 L503.3 482.1 L502.7 481.2 L502.5 480.2 L501.4 479.7 L500.8 478.8 L500.3 478 L500.3 476.7 L499.3 476.2 L498.3 475.6 L498.4 474.5 L498.4 473.3 L498.2 472.1 L497.6 471 L497.9 469.8 L497.3 468.5 L497.6 467.4 L498.6 466.6 L499 465.5 L498.8 464.2 L499.9 463.4 L499.5 462 L500.3 461.1 L500.6 460 L501.4 459.1 L501.9 458.2 L503 457.5 L503.2 456.3 L503.8 455.3 L504.4 454.5 L505.1 453.7 L506.2 453.1 L506.6 452.1 L506.8 450.9 L507.8 450.3" fill="none" stroke="#3a3f98" stroke-width="1.5" stroke-linejoin="round" stroke-linecap="round" />
<path d="M498.5 467.2 L498.3 466.4 L498.3 465.8 L498.7 465.2 L499.2 464.7 L499.7 464.2 L499.2 463.4 L499.7 462.9 L499.5 462.2 L500.1 461.7 L499.8 460.8 L500.1 460.4 L500.7 460 L501.5 459.8 L500.9 458.7 L502.6 459.1 L502 458 L503.1 458 L503.1 457.3 L503.9 457.2 L503.8 456.3 L503.6 455.4 L504 454.8 L504.8 454.7 L505.5 454.4 L506 454 L505 452.4 L505.2 451.8 L507.4 452.5 L507.2 453 L507 453.6 L506.8 454.2 L506 454.5 L506 455.2 L504.4 455.1 L504.3 455.8 L503.2 455.9 L502.9 456.4 L503.1 457.2 L502.4 457.5 L504.2 459.2 L503.4 459.5 L501.5 459.2 L502.3 460.3 L502.6 461.2 L501 461.1 L501.5 462 L500.9 462.5 L501.2 463.3 L501.1 463.9 L501.2 464.6 L499.7 464.6 L498.7 464.8 L498.3 465.4 L498.6 466.2 L499 467" fill="none" stroke="#3a3f98" stroke-width="1.5" stroke-linejoin="round" stroke-linecap="round" />
<path d="M677.8 598.8 L676.5 597.8 L675.5 596.6 L674.7 595.1 L673.6 594 L672.6 592.7 L671.2 591.6 L670.9 590 L670.6 588.4 L670.2 586.9 L669.8 585.3 L669.3 583.8 L668.6 582.3 L668.2 580.8 L668 579.2 L667.6 577.6 L666.8 576.1 L666.2 574.7 L666 573 L665.5 571.5 L664.9 570 L664.3 568.6 L663.9 567.2 L663.5 565.7 L662.8 564.4 L662.5 562.8 L662.2 561.3 L661.6 560 L660.8 558.6 L660.4 557.2 L659.7 555.8 L659.5 554.2 L659 552.8 L658.2 551.5 L657.9 550 L657.4 548.6 L656.9 547.1 L656.3 545.7 L655.7 544.3 L655.2 542.9 L655.1 541.3 L654.2 540 L653.8 538.6 L653.3 537.2 L652.6 535.8 L652.2 534.3 L651.6 532.9 L651.2 531.5 L650.7 530 L650.2 528.6 L650 527.1 L649.1 525.8 L648.7 524.3 L648.3 522.9 L647.7 521.5 L647.2 520 L646.8 518.6 L646 517.3 L645.8 515.7 L645 514.4 L644.6 513 L644.4 511.4 L644 510 L643.3 508.6 L642.7 507.2 L642.9 507.6 L641.7 507.7 L640.8 508.4 L640.2 508.5 L639.1 507.8 L638.8 506.9 L639.1 505.8 L638.8 504.9 L638.5 504 L638.1 503.1 L638.5 502 L637.6 501.3 L637.3 500.2 L636 500.1 L635.4 499.4 L634.5 498.9 L634.1 497.9 L633.4 497.2 L632.2 497.1 L631.7 496.2 L631.8 495.2 L631.3 494.4 L631.3 493.5 L631 492.6 L630.9 491.7 L630.2 491 L629.9 490.1 L629.3 489.3 L630.3 488.1 L629.5 487 L628.4 487.6 L627.9 487 L627.3 486.3 L625.9 486.1 L626.2 484.7 L625.2 484.3 L624.5 483.5 L624 482.8 L623.6 481.9 L622.7 481.3 L622.2 480.5 L621.7 479.6 L621.6 478.6 L621 477.7 L620.6 476.8 L621.2 475.5 L620.3 474.7 L620 473.7 L619.6 472.7 L618.5 472.9 L618.4 474.4 L617.5 474.9 L616.2 474.8 L616.2 475.5 L615.6 474.6 L614.5 474 L613.7 473.3 L612.9 472.5 L613.3 471.3 L612.9 470.4 L612.5 469.6 L612.6 468.7 L611.8 467.9 L612 466.9 L612.3 466 L611.1 465.3 L611.6 464.2 L610.9 463.5 L611.6 462.4 L610.6 461.4 L610.4 462.4 L610.2 463.4 L610.3 464.6 L609.3 465.2 L609 466.2 L608.4 467.1 L607.3 467.3 L606.8 465.8 L605.8 466.1 L604.9 465.7 L604.4 465.2 L603.9 464.4 L603 464 L602.4 463.3 L602.3 462.5 L601.4 461.7 L601.8 460.5 L600.4 459.9 L601.2 458.6 L600.6 457.8 L600.1 456.8 L599.4 457.6 L600.1 458.9 L599.6 459.9 L598.8 460.8 L599.2 461.8 L598.7 461 L598.9 460 L598.5 459.1 L598.1 457.7 L597.1 458 L596.2 458.4 L594.9 458.3 L594.3 457.5 L594 456.6 L593.5 455.7 L594.4 454.3 L592.9 453.9 L592.9 452.7 L592.3 453.8 L590.7 453.4 L590.1 454.6 L589.1 454.2 L589 452.8 L588.3 452 L587.7 451.2 L586.1 450.9 L586.3 449.9 L586.6 448.9 L586.1 447.9 L586.4 446.9 L586.6 445.9 L586.6 444.9 L586.7 443.9 L585.9 442.7 L585.3 444 L584.9 442.8 L583.8 442.3 L583.1 442 L582.1 442.3 L581 441.7 L579.9 442.2 L578.9 442 L578.5 441 L577.7 440.6 L576.8 440.2 L576.4 439.2 L575.7 438.4 L575 437.7 L574.6 436.5 L573.7 436 L572.4 436.1 L572.1 434.8 L570.8 434.7 L571.1 433.5 L569.6 433.2 L569.5 432.2 L569.9 431 L569.1 430.3 L568.7 429.5 L567.7 428.9 L567.2 428.1 L567.8 426.8 L566.3 426.5 L566.9 425.4 L566.4 426.4 L565.8 427.3 L565.9 428.3 L565.4 429.3 L565.6 430.3 L566 431.3 L565.3 432.3 L565.7 433.5 L564.6 433.6 L564.1 432 L563.1 431.8 L562 431.8 L561.1 432.1 L560.2 432.5 L559.2 432.2" fill="none" stroke="#2eaca6" stroke-width="1.6" stroke-linejoin="round" stroke-linecap="round" />
<path d="M558.3 432.6 L557.5 432.3 L557.4 431.7 L558.5 430.7 L559.7 429.6 L559.6 429 L558 429.1 L558.3 428.4 L557.4 428.1 L558.3 427.2 L557.8 426.8 L558.5 425.9 L557.9 425.6 L557.1 425.3 L556.7 424.9 L555 424.7 L556 423.9 L555.7 423.3 L554.5 423.1 L554.6 422.5 L555.1 421.7 L554.2 421.4 L555.6 420.4 L554.4 420.1 L556.7 419.2 L555.5 418.7 L554.8 418.2 L554.4 417.6 L554.2 417.1 L553.4 416.3 L556.2 415.9 L556 415.3 L555.1 414.7 L555.1 414.1 L553.4 413.4 L554.8 412.9 L553.5 412.3 L554.1 411.7 L555.1 411.2 L553.6 410.5 L553.8 409.9 L555.7 409.6 L554.9 408.9 L556.4 408.5 L553.9 407.6 L553.7 407.1 L556.8 406.9 L555.7 406.2 L556.1 405.7 L555.6 405.1 L554.3 404.1 L557.3 404.4 L555.8 403.4 L557.4 403.3 L554.9 401.9 L555.6 401.5 L556.7 401.2 L555.8 400.3 L558.1 400.4 L556.2 399.1 L556 398.2 L556.5 397.8 L557.2 397.4 L559.6 397.9 L559.7 397.2 L559.3 396.3 L558.8 395.4 L557.8 394.3 L560.6 395 L558.5 393.4 L559 393 L560 392.8 L561.7 393 L559.7 391.4 L559.6 390.7 L562.6 391.5 L560.1 389.2 L562.5 390.4 L561.2 388.6 L562 388.5 L562.1 387.8 L563.1 387.9 L564.8 388.5 L565 387.9 L564.5 386.8 L563.6 385.3 L564.2 385.1 L564.9 384.9 L566.6 385.6 L567.3 385.4 L565.1 383 L566.3 383.2 L568.5 384 L566.4 381.9 L566.5 381.3 L567.4 381.2 L569.6 382.1 L568 380.3 L569.7 380.8 L568.2 379.1 L570.1 379.8 L569 378.4 L570.6 378.7 L571.4 378.5 L572.1 378.2 L571.1 376.9 L573 377.4 L571.6 375.8 L573.6 376.4 L572.1 376.4 L572.6 376.9 L574.1 374 L574.6 374.7 L575 375.7" fill="none" stroke="#2eaca6" stroke-width="1.5" stroke-linejoin="round" stroke-linecap="round" />
<path d="M557.9 398.3 L558.7 398 L557.7 396.6 L559.1 396.8 L558.8 395.8 L558.1 394.6 L558.7 394.2 L558.8 393.5 L559.7 393.3 L561.6 393.8 L561.4 392.9 L562.1 392.6 L562.6 392.1 L561.8 390.8 L562.8 390.9 L563.1 390.3 L563.5 389.9 L562.7 388.5 L564.7 389.3 L563.6 387.7 L564.6 387.7 L565.5 387.6 L566 387.3 L566.5 386.9 L565.9 385.6 L566.2 385.1 L567.5 385.4 L566.5 383.8 L568.6 384.6 L567.9 383.2 L568.4 382.8 L568.7 382.2 L569.9 382.4 L569.2 381 L569.5 380.4 L569.8 379.8 L570.3 379.4 L571.7 379.7 L572.8 380 L571.5 377.7 L572.7 378.1 L573 377.5 L573.3 377 L573.8 376.6 L573.8 375.7 L575 376" fill="none" stroke="#2eaca6" stroke-width="1.5" stroke-linejoin="round" stroke-linecap="round" />
<path d="M555.3 426 L554.7 425.5 L554 425 L554.1 424.4 L556.1 423.3 L555.4 422.8 L556 422 L555.4 421.5 L555.1 420.9 L553.6 420.6 L553.1 420.1 L555.4 418.9 L554.4 418.5 L554.4 418 L552.8 417.3 L554.7 416.8 L554 416.2 L552.8 415.5 L553.1 414.9 L555.3 414.4 L554.4 413.7 L552.9 413 L552.9 412.4 L554.8 411.9 L553.7 411.2 L554.1 410.6 L553.2 409.8 L553.4 409.2 L554.4 408.7 L554.4 408.1 L553.8 407.3 L553.8 406.6 L554.8 406.2 L554 405.3 L553.9 404.7 L555.2 404.3 L554.1 403.4 L555.5 403" fill="none" stroke="#2eaca6" stroke-width="1.5" stroke-linejoin="round" stroke-linecap="round" />
<path d="M385.8 599.3L586.2 364.3" stroke="#e8202a" stroke-width="2"/>
<path d="M605.2 372.9H633.7" stroke="#000000" stroke-width="1.9"/>
<text x="637" y="376.9" font-size="12.2" textLength="36" lengthAdjust="spacingAndGlyphs">100kPa</text>
<path d="M605.2 387.9H633.7" stroke="#e8232b" stroke-width="1.9"/>
<text x="637" y="391.9" font-size="12.2" textLength="36" lengthAdjust="spacingAndGlyphs">200kPa</text>
<path d="M605.2 402.8H633.7" stroke="#3a3f98" stroke-width="1.9"/>
<text x="637" y="406.8" font-size="12.2" textLength="36" lengthAdjust="spacingAndGlyphs">300kPa</text>
<path d="M605.2 417.8H633.7" stroke="#2eaca6" stroke-width="1.9"/>
<text x="637" y="421.8" font-size="12.2" textLength="36" lengthAdjust="spacingAndGlyphs">500kPa</text>
<text x="472.5" y="392" font-size="12.5">CSL</text>
<text x="472.5" y="406.2" font-size="12.5">q=1.456p'</text>
<text x="472.5" y="423.7" font-size="12.5">R<tspan font-size="8.3" dy="-5.2">2</tspan><tspan dy="5.2">=0.9987</tspan></text>
<path d="M516 443.6L502 427.5" stroke="#111" stroke-width="1.1"/><path d="M500.3 425.5L505.5 428.3L502.6 430.8Z" fill="#111"/>
<text transform="translate(358.1 482) rotate(-90)" text-anchor="middle" font-size="12">q/kPa</text>
<text x="517.1" y="628.3" font-size="11.5">p'/kPa</text>
<text x="189.2" y="323.9" text-anchor="middle" font-size="20">(a)</text>
<text x="526.6" y="323.9" text-anchor="middle" font-size="20">(b)</text>
<text x="189" y="679.2" text-anchor="middle" font-size="20">(c)</text>
<text x="526.6" y="679.2" text-anchor="middle" font-size="20">(d)</text>
<text x="357" y="1007.4" text-anchor="middle" font-size="20">(e)</text>
</g>
<defs>
<linearGradient id="clayL" x1="0" y1="0" x2="1" y2="0">
<stop offset="0" stop-color="#7a7154"/><stop offset="0.25" stop-color="#82795b"/><stop offset="0.52" stop-color="#887e60"/><stop offset="0.62" stop-color="#9b8e6f"/><stop offset="0.85" stop-color="#ab9d7d"/><stop offset="1" stop-color="#9d9071"/></linearGradient>
<radialGradient id="clayLhl" cx="0.8" cy="0.3" r="0.35">
<stop offset="0" stop-color="#dcc8a6" stop-opacity="0.5"/><stop offset="1" stop-color="#dcc8a6" stop-opacity="0"/></radialGradient>
<linearGradient id="clayLv" x1="0" y1="0" x2="0" y2="1">
<stop offset="0" stop-color="#c0b592" stop-opacity="0.12"/><stop offset="0.2" stop-color="#b8ad8a" stop-opacity="0"/><stop offset="0.7" stop-color="#000" stop-opacity="0"/><stop offset="1" stop-color="#3a3220" stop-opacity="0.12"/></linearGradient>
<radialGradient id="clayR" cx="0.45" cy="0.42" r="0.68">
<stop offset="0" stop-color="#b4a694"/><stop offset="0.5" stop-color="#a89a87"/><stop offset="0.8" stop-color="#8f8271"/><stop offset="1" stop-color="#6e6455"/></radialGradient>
<linearGradient id="clayRv" x1="0" y1="0" x2="0" y2="1">
<stop offset="0" stop-color="#5a5040" stop-opacity="0.06"/><stop offset="0.2" stop-color="#5a5040" stop-opacity="0"/><stop offset="0.75" stop-color="#fff" stop-opacity="0"/><stop offset="1" stop-color="#3a3428" stop-opacity="0.15"/></linearGradient>
<linearGradient id="clayRh" x1="0" y1="0" x2="1" y2="0">
<stop offset="0" stop-color="#3a3428" stop-opacity="0.12"/><stop offset="0.15" stop-color="#3a3428" stop-opacity="0"/><stop offset="0.72" stop-color="#3a3428" stop-opacity="0"/><stop offset="1" stop-color="#2a2018" stop-opacity="0.4"/></linearGradient>
<filter id="grain" x="0" y="0" width="1" height="1"><feTurbulence type="fractalNoise" baseFrequency="0.045 0.4" numOctaves="3" seed="7"/><feColorMatrix type="matrix" values="0 0 0 0 0  0 0 0 0 0  0 0 0 0 0  0 0 0 -1.6 0.75"/><feComposite in2="SourceGraphic" operator="in"/></filter>
<filter id="mottle" x="0" y="0" width="1" height="1"><feTurbulence type="fractalNoise" baseFrequency="0.5 0.5" numOctaves="2" seed="11"/><feColorMatrix type="matrix" values="0 0 0 0 1  0 0 0 0 1  0 0 0 0 1  0 0 0 -2.2 1.1"/><feComposite in2="SourceGraphic" operator="in"/></filter>
<clipPath id="clipLs"><path d="M198.7 754.9 C199.6 752.9 200.3 752.3 203 751 C205.7 749.7 208.8 748.3 215 747 C221.2 745.7 232.5 743.8 240 743 C247.5 742.2 252.5 741.8 260 742 C267.5 742.2 277.8 743 285 744 C292.2 745 298.8 746.8 303 748 C307.2 749.2 308.4 750 310 751 C311.6 752 311.8 751.7 312.5 754 C313.2 756.3 313.7 759 314.5 765 C315.3 771 316 783.3 317.4 790 C318.8 796.7 321.2 800 322.6 805 C324 810 325.1 815 325.6 820 C326.1 825 326.2 830.2 325.8 835 C325.4 839.8 324.2 844.2 323.4 849 C322.6 853.8 321.9 859 321.2 864 C320.4 869 319.8 874 318.9 879 C318 884 316.9 889 316 894 C315.1 899 314.3 904.7 313.7 909 C313.1 913.3 313.2 917 312.3 920 C311.4 923 310.2 925.2 308 927 C305.8 928.8 303.7 929.9 299 931 C294.3 932.1 288.2 932.9 280 933.5 C271.8 934.1 260.6 934.7 250 934.5 C239.4 934.3 224.2 933.3 216.5 932.4 C208.8 931.5 206.8 930 204 929 C201.2 928 200.6 927.4 199.5 926.5 C198.4 925.6 198.2 926.5 197.3 923.5 C196.4 920.5 195.3 913.6 194.3 908.7 C193.3 903.8 192.3 898.9 191.3 893.9 C190.3 888.9 189.4 884 188.4 879 C187.4 874 186.3 869.2 185.4 864.2 C184.5 859.2 183.6 854.2 183.2 849.3 C182.8 844.3 182.9 839.4 183.2 834.5 C183.5 829.6 184.4 824.7 185.1 819.7 C185.8 814.8 186.3 809.8 187.6 804.8 C188.9 799.8 191.5 795 192.8 790 C194.1 785 194.7 779.5 195.5 775 C196.3 770.5 197 766.4 197.5 763 C198 759.6 197.8 756.9 198.7 754.9Z"/></clipPath><clipPath id="clipRs"><path d="M394.8 749.6 C395.2 746.1 392.8 747.4 397 746.5 C401.2 745.6 409.8 744.8 420 744.5 C430.2 744.2 445.5 744.5 458 744.5 C470.5 744.5 485.3 744.3 495 744.5 C504.7 744.7 511.8 744.8 516 745.5 C520.2 746.2 519 745 520.1 748.6 C521.2 752.2 522 761.3 522.6 767.3 C523.2 773.3 522.9 779.1 523.8 784.6 C524.7 790.1 526.8 794 528.1 800 C529.4 806 531 813.9 531.6 820.8 C532.2 827.7 532 835.3 531.8 841.5 C531.6 847.7 531.3 853.5 530.2 858.1 C529.1 862.7 527.2 865.1 525.4 869.2 C523.5 873.4 520.7 878.4 519.1 883 C517.5 887.6 516.6 891.6 515.7 896.9 C514.8 902.2 515.5 910.3 513.6 914.9 C511.8 919.5 508.9 921.6 504.6 924.6 C500.3 927.6 495.4 930.8 488 932.9 C480.6 935 469.3 936.9 460 937.5 C450.7 938.1 440.4 937.5 432.3 936.3 C424.2 935.1 416.6 932.8 411.5 930.1 C406.4 927.5 404.1 924.1 401.8 920.4 C399.5 916.7 399.2 913.1 397.7 908 C396.2 902.9 394.4 895.3 392.8 890 C391.2 884.7 389.8 881.4 388 876.1 C386.2 870.8 383.5 863.2 381.8 858.1 C380.1 853 378.7 849.6 378 845.7 C377.3 841.8 377.1 839.2 377.6 834.6 C378.1 830 379.6 823.8 381.1 818 C382.6 812.2 384.5 805.6 386.6 800 C388.7 794.4 392.2 790.1 393.6 784.6 C395 779.1 394.6 773.1 394.8 767.3 C395 761.5 394.4 753.1 394.8 749.6Z"/></clipPath>
</defs>
<path d="M198.7 754.9 C199.6 752.9 200.3 752.3 203 751 C205.7 749.7 208.8 748.3 215 747 C221.2 745.7 232.5 743.8 240 743 C247.5 742.2 252.5 741.8 260 742 C267.5 742.2 277.8 743 285 744 C292.2 745 298.8 746.8 303 748 C307.2 749.2 308.4 750 310 751 C311.6 752 311.8 751.7 312.5 754 C313.2 756.3 313.7 759 314.5 765 C315.3 771 316 783.3 317.4 790 C318.8 796.7 321.2 800 322.6 805 C324 810 325.1 815 325.6 820 C326.1 825 326.2 830.2 325.8 835 C325.4 839.8 324.2 844.2 323.4 849 C322.6 853.8 321.9 859 321.2 864 C320.4 869 319.8 874 318.9 879 C318 884 316.9 889 316 894 C315.1 899 314.3 904.7 313.7 909 C313.1 913.3 313.2 917 312.3 920 C311.4 923 310.2 925.2 308 927 C305.8 928.8 303.7 929.9 299 931 C294.3 932.1 288.2 932.9 280 933.5 C271.8 934.1 260.6 934.7 250 934.5 C239.4 934.3 224.2 933.3 216.5 932.4 C208.8 931.5 206.8 930 204 929 C201.2 928 200.6 927.4 199.5 926.5 C198.4 925.6 198.2 926.5 197.3 923.5 C196.4 920.5 195.3 913.6 194.3 908.7 C193.3 903.8 192.3 898.9 191.3 893.9 C190.3 888.9 189.4 884 188.4 879 C187.4 874 186.3 869.2 185.4 864.2 C184.5 859.2 183.6 854.2 183.2 849.3 C182.8 844.3 182.9 839.4 183.2 834.5 C183.5 829.6 184.4 824.7 185.1 819.7 C185.8 814.8 186.3 809.8 187.6 804.8 C188.9 799.8 191.5 795 192.8 790 C194.1 785 194.7 779.5 195.5 775 C196.3 770.5 197 766.4 197.5 763 C198 759.6 197.8 756.9 198.7 754.9Z" fill="url(#clayL)"/>
<path d="M198.7 754.9 C199.6 752.9 200.3 752.3 203 751 C205.7 749.7 208.8 748.3 215 747 C221.2 745.7 232.5 743.8 240 743 C247.5 742.2 252.5 741.8 260 742 C267.5 742.2 277.8 743 285 744 C292.2 745 298.8 746.8 303 748 C307.2 749.2 308.4 750 310 751 C311.6 752 311.8 751.7 312.5 754 C313.2 756.3 313.7 759 314.5 765 C315.3 771 316 783.3 317.4 790 C318.8 796.7 321.2 800 322.6 805 C324 810 325.1 815 325.6 820 C326.1 825 326.2 830.2 325.8 835 C325.4 839.8 324.2 844.2 323.4 849 C322.6 853.8 321.9 859 321.2 864 C320.4 869 319.8 874 318.9 879 C318 884 316.9 889 316 894 C315.1 899 314.3 904.7 313.7 909 C313.1 913.3 313.2 917 312.3 920 C311.4 923 310.2 925.2 308 927 C305.8 928.8 303.7 929.9 299 931 C294.3 932.1 288.2 932.9 280 933.5 C271.8 934.1 260.6 934.7 250 934.5 C239.4 934.3 224.2 933.3 216.5 932.4 C208.8 931.5 206.8 930 204 929 C201.2 928 200.6 927.4 199.5 926.5 C198.4 925.6 198.2 926.5 197.3 923.5 C196.4 920.5 195.3 913.6 194.3 908.7 C193.3 903.8 192.3 898.9 191.3 893.9 C190.3 888.9 189.4 884 188.4 879 C187.4 874 186.3 869.2 185.4 864.2 C184.5 859.2 183.6 854.2 183.2 849.3 C182.8 844.3 182.9 839.4 183.2 834.5 C183.5 829.6 184.4 824.7 185.1 819.7 C185.8 814.8 186.3 809.8 187.6 804.8 C188.9 799.8 191.5 795 192.8 790 C194.1 785 194.7 779.5 195.5 775 C196.3 770.5 197 766.4 197.5 763 C198 759.6 197.8 756.9 198.7 754.9Z" fill="url(#clayLhl)"/>
<path d="M198.7 754.9 C199.6 752.9 200.3 752.3 203 751 C205.7 749.7 208.8 748.3 215 747 C221.2 745.7 232.5 743.8 240 743 C247.5 742.2 252.5 741.8 260 742 C267.5 742.2 277.8 743 285 744 C292.2 745 298.8 746.8 303 748 C307.2 749.2 308.4 750 310 751 C311.6 752 311.8 751.7 312.5 754 C313.2 756.3 313.7 759 314.5 765 C315.3 771 316 783.3 317.4 790 C318.8 796.7 321.2 800 322.6 805 C324 810 325.1 815 325.6 820 C326.1 825 326.2 830.2 325.8 835 C325.4 839.8 324.2 844.2 323.4 849 C322.6 853.8 321.9 859 321.2 864 C320.4 869 319.8 874 318.9 879 C318 884 316.9 889 316 894 C315.1 899 314.3 904.7 313.7 909 C313.1 913.3 313.2 917 312.3 920 C311.4 923 310.2 925.2 308 927 C305.8 928.8 303.7 929.9 299 931 C294.3 932.1 288.2 932.9 280 933.5 C271.8 934.1 260.6 934.7 250 934.5 C239.4 934.3 224.2 933.3 216.5 932.4 C208.8 931.5 206.8 930 204 929 C201.2 928 200.6 927.4 199.5 926.5 C198.4 925.6 198.2 926.5 197.3 923.5 C196.4 920.5 195.3 913.6 194.3 908.7 C193.3 903.8 192.3 898.9 191.3 893.9 C190.3 888.9 189.4 884 188.4 879 C187.4 874 186.3 869.2 185.4 864.2 C184.5 859.2 183.6 854.2 183.2 849.3 C182.8 844.3 182.9 839.4 183.2 834.5 C183.5 829.6 184.4 824.7 185.1 819.7 C185.8 814.8 186.3 809.8 187.6 804.8 C188.9 799.8 191.5 795 192.8 790 C194.1 785 194.7 779.5 195.5 775 C196.3 770.5 197 766.4 197.5 763 C198 759.6 197.8 756.9 198.7 754.9Z" fill="url(#clayLv)"/>
<path d="M198.7 754.9 C199.6 752.9 200.3 752.3 203 751 C205.7 749.7 208.8 748.3 215 747 C221.2 745.7 232.5 743.8 240 743 C247.5 742.2 252.5 741.8 260 742 C267.5 742.2 277.8 743 285 744 C292.2 745 298.8 746.8 303 748 C307.2 749.2 308.4 750 310 751 C311.6 752 311.8 751.7 312.5 754 C313.2 756.3 313.7 759 314.5 765 C315.3 771 316 783.3 317.4 790 C318.8 796.7 321.2 800 322.6 805 C324 810 325.1 815 325.6 820 C326.1 825 326.2 830.2 325.8 835 C325.4 839.8 324.2 844.2 323.4 849 C322.6 853.8 321.9 859 321.2 864 C320.4 869 319.8 874 318.9 879 C318 884 316.9 889 316 894 C315.1 899 314.3 904.7 313.7 909 C313.1 913.3 313.2 917 312.3 920 C311.4 923 310.2 925.2 308 927 C305.8 928.8 303.7 929.9 299 931 C294.3 932.1 288.2 932.9 280 933.5 C271.8 934.1 260.6 934.7 250 934.5 C239.4 934.3 224.2 933.3 216.5 932.4 C208.8 931.5 206.8 930 204 929 C201.2 928 200.6 927.4 199.5 926.5 C198.4 925.6 198.2 926.5 197.3 923.5 C196.4 920.5 195.3 913.6 194.3 908.7 C193.3 903.8 192.3 898.9 191.3 893.9 C190.3 888.9 189.4 884 188.4 879 C187.4 874 186.3 869.2 185.4 864.2 C184.5 859.2 183.6 854.2 183.2 849.3 C182.8 844.3 182.9 839.4 183.2 834.5 C183.5 829.6 184.4 824.7 185.1 819.7 C185.8 814.8 186.3 809.8 187.6 804.8 C188.9 799.8 191.5 795 192.8 790 C194.1 785 194.7 779.5 195.5 775 C196.3 770.5 197 766.4 197.5 763 C198 759.6 197.8 756.9 198.7 754.9Z" fill="#000" filter="url(#grain)" opacity="0.12"/>
<path d="M198.7 754.9 C199.6 752.9 200.3 752.3 203 751 C205.7 749.7 208.8 748.3 215 747 C221.2 745.7 232.5 743.8 240 743 C247.5 742.2 252.5 741.8 260 742 C267.5 742.2 277.8 743 285 744 C292.2 745 298.8 746.8 303 748 C307.2 749.2 308.4 750 310 751 C311.6 752 311.8 751.7 312.5 754 C313.2 756.3 313.7 759 314.5 765 C315.3 771 316 783.3 317.4 790 C318.8 796.7 321.2 800 322.6 805 C324 810 325.1 815 325.6 820 C326.1 825 326.2 830.2 325.8 835 C325.4 839.8 324.2 844.2 323.4 849 C322.6 853.8 321.9 859 321.2 864 C320.4 869 319.8 874 318.9 879 C318 884 316.9 889 316 894 C315.1 899 314.3 904.7 313.7 909 C313.1 913.3 313.2 917 312.3 920 C311.4 923 310.2 925.2 308 927 C305.8 928.8 303.7 929.9 299 931 C294.3 932.1 288.2 932.9 280 933.5 C271.8 934.1 260.6 934.7 250 934.5 C239.4 934.3 224.2 933.3 216.5 932.4 C208.8 931.5 206.8 930 204 929 C201.2 928 200.6 927.4 199.5 926.5 C198.4 925.6 198.2 926.5 197.3 923.5 C196.4 920.5 195.3 913.6 194.3 908.7 C193.3 903.8 192.3 898.9 191.3 893.9 C190.3 888.9 189.4 884 188.4 879 C187.4 874 186.3 869.2 185.4 864.2 C184.5 859.2 183.6 854.2 183.2 849.3 C182.8 844.3 182.9 839.4 183.2 834.5 C183.5 829.6 184.4 824.7 185.1 819.7 C185.8 814.8 186.3 809.8 187.6 804.8 C188.9 799.8 191.5 795 192.8 790 C194.1 785 194.7 779.5 195.5 775 C196.3 770.5 197 766.4 197.5 763 C198 759.6 197.8 756.9 198.7 754.9Z" fill="#000" filter="url(#mottle)" opacity="0.10"/>
<g clip-path="url(#clipLs)"><path d="M217.4 768.6 Q263.0 769.8 308.7 768.5 M235.3 778.9 Q251.3 780.8 267.2 779.3 M234.1 791.9 Q252.8 791.0 271.5 792.1 M214.4 805.4 Q230.0 805.1 245.6 806.8 M225.9 815.6 Q246.9 813.6 267.8 815.2 M187.6 827.7 Q202.7 825.8 217.8 826.4 M238.9 852.6 Q280.6 854.8 322.2 853.1 M220.7 861.9 Q243.8 861.8 266.9 861.9 M233.6 871.7 Q258.5 870.7 283.5 871.3 M183.9 884.2 Q216.4 882.0 248.9 884.4 M200.3 897.6 Q230.7 896.9 261.2 896.6 M208.9 905.1 Q256.0 907.9 303.1 905.0 M225.0 917.0 Q271.7 919.2 318.4 917.7" fill="none" stroke="#4e4530" stroke-width="0.6" opacity="0.14"/><path d="M236 770 L237 850 L236 930 M263 775 L264 850 L263.5 932" fill="none" stroke="#5a5038" stroke-width="0.8" opacity="0.2"/><path d="M306.5 815 L307.5 850 M309 820 L309.5 845 M306 868 L305 905" fill="none" stroke="#3e3626" stroke-width="0.9" opacity="0.6"/><path d="M242 791 L258 790" stroke="#3e3626" stroke-width="1.4" opacity="0.7"/></g>
<path d="M394.8 749.6 C395.2 746.1 392.8 747.4 397 746.5 C401.2 745.6 409.8 744.8 420 744.5 C430.2 744.2 445.5 744.5 458 744.5 C470.5 744.5 485.3 744.3 495 744.5 C504.7 744.7 511.8 744.8 516 745.5 C520.2 746.2 519 745 520.1 748.6 C521.2 752.2 522 761.3 522.6 767.3 C523.2 773.3 522.9 779.1 523.8 784.6 C524.7 790.1 526.8 794 528.1 800 C529.4 806 531 813.9 531.6 820.8 C532.2 827.7 532 835.3 531.8 841.5 C531.6 847.7 531.3 853.5 530.2 858.1 C529.1 862.7 527.2 865.1 525.4 869.2 C523.5 873.4 520.7 878.4 519.1 883 C517.5 887.6 516.6 891.6 515.7 896.9 C514.8 902.2 515.5 910.3 513.6 914.9 C511.8 919.5 508.9 921.6 504.6 924.6 C500.3 927.6 495.4 930.8 488 932.9 C480.6 935 469.3 936.9 460 937.5 C450.7 938.1 440.4 937.5 432.3 936.3 C424.2 935.1 416.6 932.8 411.5 930.1 C406.4 927.5 404.1 924.1 401.8 920.4 C399.5 916.7 399.2 913.1 397.7 908 C396.2 902.9 394.4 895.3 392.8 890 C391.2 884.7 389.8 881.4 388 876.1 C386.2 870.8 383.5 863.2 381.8 858.1 C380.1 853 378.7 849.6 378 845.7 C377.3 841.8 377.1 839.2 377.6 834.6 C378.1 830 379.6 823.8 381.1 818 C382.6 812.2 384.5 805.6 386.6 800 C388.7 794.4 392.2 790.1 393.6 784.6 C395 779.1 394.6 773.1 394.8 767.3 C395 761.5 394.4 753.1 394.8 749.6Z" fill="url(#clayR)"/>
<path d="M394.8 749.6 C395.2 746.1 392.8 747.4 397 746.5 C401.2 745.6 409.8 744.8 420 744.5 C430.2 744.2 445.5 744.5 458 744.5 C470.5 744.5 485.3 744.3 495 744.5 C504.7 744.7 511.8 744.8 516 745.5 C520.2 746.2 519 745 520.1 748.6 C521.2 752.2 522 761.3 522.6 767.3 C523.2 773.3 522.9 779.1 523.8 784.6 C524.7 790.1 526.8 794 528.1 800 C529.4 806 531 813.9 531.6 820.8 C532.2 827.7 532 835.3 531.8 841.5 C531.6 847.7 531.3 853.5 530.2 858.1 C529.1 862.7 527.2 865.1 525.4 869.2 C523.5 873.4 520.7 878.4 519.1 883 C517.5 887.6 516.6 891.6 515.7 896.9 C514.8 902.2 515.5 910.3 513.6 914.9 C511.8 919.5 508.9 921.6 504.6 924.6 C500.3 927.6 495.4 930.8 488 932.9 C480.6 935 469.3 936.9 460 937.5 C450.7 938.1 440.4 937.5 432.3 936.3 C424.2 935.1 416.6 932.8 411.5 930.1 C406.4 927.5 404.1 924.1 401.8 920.4 C399.5 916.7 399.2 913.1 397.7 908 C396.2 902.9 394.4 895.3 392.8 890 C391.2 884.7 389.8 881.4 388 876.1 C386.2 870.8 383.5 863.2 381.8 858.1 C380.1 853 378.7 849.6 378 845.7 C377.3 841.8 377.1 839.2 377.6 834.6 C378.1 830 379.6 823.8 381.1 818 C382.6 812.2 384.5 805.6 386.6 800 C388.7 794.4 392.2 790.1 393.6 784.6 C395 779.1 394.6 773.1 394.8 767.3 C395 761.5 394.4 753.1 394.8 749.6Z" fill="url(#clayRv)"/>
<path d="M394.8 749.6 C395.2 746.1 392.8 747.4 397 746.5 C401.2 745.6 409.8 744.8 420 744.5 C430.2 744.2 445.5 744.5 458 744.5 C470.5 744.5 485.3 744.3 495 744.5 C504.7 744.7 511.8 744.8 516 745.5 C520.2 746.2 519 745 520.1 748.6 C521.2 752.2 522 761.3 522.6 767.3 C523.2 773.3 522.9 779.1 523.8 784.6 C524.7 790.1 526.8 794 528.1 800 C529.4 806 531 813.9 531.6 820.8 C532.2 827.7 532 835.3 531.8 841.5 C531.6 847.7 531.3 853.5 530.2 858.1 C529.1 862.7 527.2 865.1 525.4 869.2 C523.5 873.4 520.7 878.4 519.1 883 C517.5 887.6 516.6 891.6 515.7 896.9 C514.8 902.2 515.5 910.3 513.6 914.9 C511.8 919.5 508.9 921.6 504.6 924.6 C500.3 927.6 495.4 930.8 488 932.9 C480.6 935 469.3 936.9 460 937.5 C450.7 938.1 440.4 937.5 432.3 936.3 C424.2 935.1 416.6 932.8 411.5 930.1 C406.4 927.5 404.1 924.1 401.8 920.4 C399.5 916.7 399.2 913.1 397.7 908 C396.2 902.9 394.4 895.3 392.8 890 C391.2 884.7 389.8 881.4 388 876.1 C386.2 870.8 383.5 863.2 381.8 858.1 C380.1 853 378.7 849.6 378 845.7 C377.3 841.8 377.1 839.2 377.6 834.6 C378.1 830 379.6 823.8 381.1 818 C382.6 812.2 384.5 805.6 386.6 800 C388.7 794.4 392.2 790.1 393.6 784.6 C395 779.1 394.6 773.1 394.8 767.3 C395 761.5 394.4 753.1 394.8 749.6Z" fill="url(#clayRh)"/>
<path d="M394.8 749.6 C395.2 746.1 392.8 747.4 397 746.5 C401.2 745.6 409.8 744.8 420 744.5 C430.2 744.2 445.5 744.5 458 744.5 C470.5 744.5 485.3 744.3 495 744.5 C504.7 744.7 511.8 744.8 516 745.5 C520.2 746.2 519 745 520.1 748.6 C521.2 752.2 522 761.3 522.6 767.3 C523.2 773.3 522.9 779.1 523.8 784.6 C524.7 790.1 526.8 794 528.1 800 C529.4 806 531 813.9 531.6 820.8 C532.2 827.7 532 835.3 531.8 841.5 C531.6 847.7 531.3 853.5 530.2 858.1 C529.1 862.7 527.2 865.1 525.4 869.2 C523.5 873.4 520.7 878.4 519.1 883 C517.5 887.6 516.6 891.6 515.7 896.9 C514.8 902.2 515.5 910.3 513.6 914.9 C511.8 919.5 508.9 921.6 504.6 924.6 C500.3 927.6 495.4 930.8 488 932.9 C480.6 935 469.3 936.9 460 937.5 C450.7 938.1 440.4 937.5 432.3 936.3 C424.2 935.1 416.6 932.8 411.5 930.1 C406.4 927.5 404.1 924.1 401.8 920.4 C399.5 916.7 399.2 913.1 397.7 908 C396.2 902.9 394.4 895.3 392.8 890 C391.2 884.7 389.8 881.4 388 876.1 C386.2 870.8 383.5 863.2 381.8 858.1 C380.1 853 378.7 849.6 378 845.7 C377.3 841.8 377.1 839.2 377.6 834.6 C378.1 830 379.6 823.8 381.1 818 C382.6 812.2 384.5 805.6 386.6 800 C388.7 794.4 392.2 790.1 393.6 784.6 C395 779.1 394.6 773.1 394.8 767.3 C395 761.5 394.4 753.1 394.8 749.6Z" fill="#000" filter="url(#grain)" opacity="0.12"/>
<path d="M394.8 749.6 C395.2 746.1 392.8 747.4 397 746.5 C401.2 745.6 409.8 744.8 420 744.5 C430.2 744.2 445.5 744.5 458 744.5 C470.5 744.5 485.3 744.3 495 744.5 C504.7 744.7 511.8 744.8 516 745.5 C520.2 746.2 519 745 520.1 748.6 C521.2 752.2 522 761.3 522.6 767.3 C523.2 773.3 522.9 779.1 523.8 784.6 C524.7 790.1 526.8 794 528.1 800 C529.4 806 531 813.9 531.6 820.8 C532.2 827.7 532 835.3 531.8 841.5 C531.6 847.7 531.3 853.5 530.2 858.1 C529.1 862.7 527.2 865.1 525.4 869.2 C523.5 873.4 520.7 878.4 519.1 883 C517.5 887.6 516.6 891.6 515.7 896.9 C514.8 902.2 515.5 910.3 513.6 914.9 C511.8 919.5 508.9 921.6 504.6 924.6 C500.3 927.6 495.4 930.8 488 932.9 C480.6 935 469.3 936.9 460 937.5 C450.7 938.1 440.4 937.5 432.3 936.3 C424.2 935.1 416.6 932.8 411.5 930.1 C406.4 927.5 404.1 924.1 401.8 920.4 C399.5 916.7 399.2 913.1 397.7 908 C396.2 902.9 394.4 895.3 392.8 890 C391.2 884.7 389.8 881.4 388 876.1 C386.2 870.8 383.5 863.2 381.8 858.1 C380.1 853 378.7 849.6 378 845.7 C377.3 841.8 377.1 839.2 377.6 834.6 C378.1 830 379.6 823.8 381.1 818 C382.6 812.2 384.5 805.6 386.6 800 C388.7 794.4 392.2 790.1 393.6 784.6 C395 779.1 394.6 773.1 394.8 767.3 C395 761.5 394.4 753.1 394.8 749.6Z" fill="#000" filter="url(#mottle)" opacity="0.12"/>
<g clip-path="url(#clipRs)"><path d="M411.3 769.1 Q426.8 768.7 442.2 770.9 M385.4 783.9 Q447.5 784.8 509.6 782.7 M396.1 797.6 Q441.0 795.4 485.9 797.5 M426.2 811.1 Q477.2 813.8 528.2 811.2 M395.2 826.8 Q445.2 825.4 495.3 826.8 M409.1 857.6 Q439.8 856.7 470.6 857.2 M382.1 867.0 Q441.2 864.6 500.3 865.1 M439.1 873.8 Q473.0 872.9 506.9 874.2 M428.2 880.8 Q461.8 879.2 495.5 881.8 M374.2 888.7 Q422.7 886.5 471.2 888.5 M436.6 896.6 Q474.7 894.4 512.9 895.9 M382.1 902.6 Q451.1 902.8 520.1 904.0 M430.0 910.9 Q484.0 911.0 538.1 911.5 M404.6 919.8 Q434.9 918.6 465.3 919.8" fill="none" stroke="#4a4236" stroke-width="0.7" opacity="0.14"/><path d="M411.3 769.1 Q426.8 768.7 442.2 770.9 M385.4 783.9 Q447.5 784.8 509.6 782.7 M396.1 797.6 Q441.0 795.4 485.9 797.5 M426.2 811.1 Q477.2 813.8 528.2 811.2 M395.2 826.8 Q445.2 825.4 495.3 826.8 M409.1 857.6 Q439.8 856.7 470.6 857.2 M382.1 867.0 Q441.2 864.6 500.3 865.1 M439.1 873.8 Q473.0 872.9 506.9 874.2 M428.2 880.8 Q461.8 879.2 495.5 881.8 M374.2 888.7 Q422.7 886.5 471.2 888.5 M436.6 896.6 Q474.7 894.4 512.9 895.9 M382.1 902.6 Q451.1 902.8 520.1 904.0 M430.0 910.9 Q484.0 911.0 538.1 911.5 M404.6 919.8 Q434.9 918.6 465.3 919.8" fill="none" stroke="#d8d0c0" stroke-width="0.7" opacity="0.14" transform="translate(0 1.6)"/><path d="M430 775 H462 M428 795 H465 M430 810 H462" stroke="#5a5040" stroke-width="1.0" opacity="0.3"/></g>
<path d="M258.1 714.9H262.9V736.8H265.2L260.5 741.8L255.8 736.8H258.1Z" fill="#4472c4"/>
<path d="M463.4 717.3H468.2V739H470.6L465.8 744L461.1 739H463.4Z" fill="#4472c4"/>
<path d="M181.9 838.9H204.3V836.8L209.1 841.1L204.3 845.5V843.3H181.9Z" fill="#ff0000" stroke="#5a2a3a" stroke-width="0.4"/>
<path d="M323.5 838.9H301.3V836.8L296.5 841.1L301.3 845.5V843.3H323.5Z" fill="#ff0000" stroke="#5a2a3a" stroke-width="0.4"/>
<path d="M378.9 841H402.3V838.9L407.1 843.2L402.3 847.6V845.4H378.9Z" fill="#ff0000" stroke="#5a2a3a" stroke-width="0.4"/>
<path d="M530.9 841H508.3V838.9L503.5 843.2L508.3 847.6V845.4H530.9Z" fill="#ff0000" stroke="#5a2a3a" stroke-width="0.4"/>
<text x="212.7" y="754" font-size="10.5" font-weight="bold" fill="#4673c6" stroke="#4673c6" stroke-width="0.25" textLength="96" lengthAdjust="spacingAndGlyphs">Vertical compression</text>
<text x="417" y="755.2" font-size="10.5" font-weight="bold" fill="#4673c6" stroke="#4673c6" stroke-width="0.25" textLength="96" lengthAdjust="spacingAndGlyphs">Vertical compression</text>
<text x="213.5" y="843.8" font-size="11" font-weight="bold" fill="#f01010" stroke="#f01010" stroke-width="0.25" textLength="79.5" lengthAdjust="spacingAndGlyphs">Radial expansion</text>
<text x="416.2" y="846.1" font-size="11" font-weight="bold" fill="#f01010" stroke="#f01010" stroke-width="0.25" textLength="80" lengthAdjust="spacingAndGlyphs">Radial expansion</text>
<text x="215.4" y="957.3" font-size="16" font-weight="bold" font-style="italic" fill="#111" stroke="#111" stroke-width="0.3" textLength="8.8" lengthAdjust="spacingAndGlyphs">σ</text><text x="224.9" y="960.2" font-size="10" font-weight="bold" fill="#111" stroke="#111" stroke-width="0.25">3</text><path d="M236.5 952.1h8.6v1.6h-8.6zM236.5 955.3h8.6v1.6h-8.6z" fill="#111"/><text x="251.7" y="957.4" font-size="12.2" font-weight="bold" fill="#111" stroke="#111" stroke-width="0.35" textLength="25.6" lengthAdjust="spacingAndGlyphs">100</text><text x="278.4" y="957.4" font-size="12.2" font-weight="bold" font-style="italic" fill="#111" stroke="#111" stroke-width="0.3" textLength="26.5" lengthAdjust="spacingAndGlyphs">kPa</text>
<text x="410.4" y="957.3" font-size="16" font-weight="bold" font-style="italic" fill="#111" stroke="#111" stroke-width="0.3" textLength="8.8" lengthAdjust="spacingAndGlyphs">σ</text><text x="419.9" y="960.2" font-size="10" font-weight="bold" fill="#111" stroke="#111" stroke-width="0.25">3</text><path d="M431.5 952.1h8.6v1.6h-8.6zM431.5 955.3h8.6v1.6h-8.6z" fill="#111"/><text x="446.7" y="957.4" font-size="12.2" font-weight="bold" fill="#111" stroke="#111" stroke-width="0.35" textLength="25.6" lengthAdjust="spacingAndGlyphs">500</text><text x="473.4" y="957.4" font-size="12.2" font-weight="bold" font-style="italic" fill="#111" stroke="#111" stroke-width="0.3" textLength="26.5" lengthAdjust="spacingAndGlyphs">kPa</text>
</svg></body></html>
